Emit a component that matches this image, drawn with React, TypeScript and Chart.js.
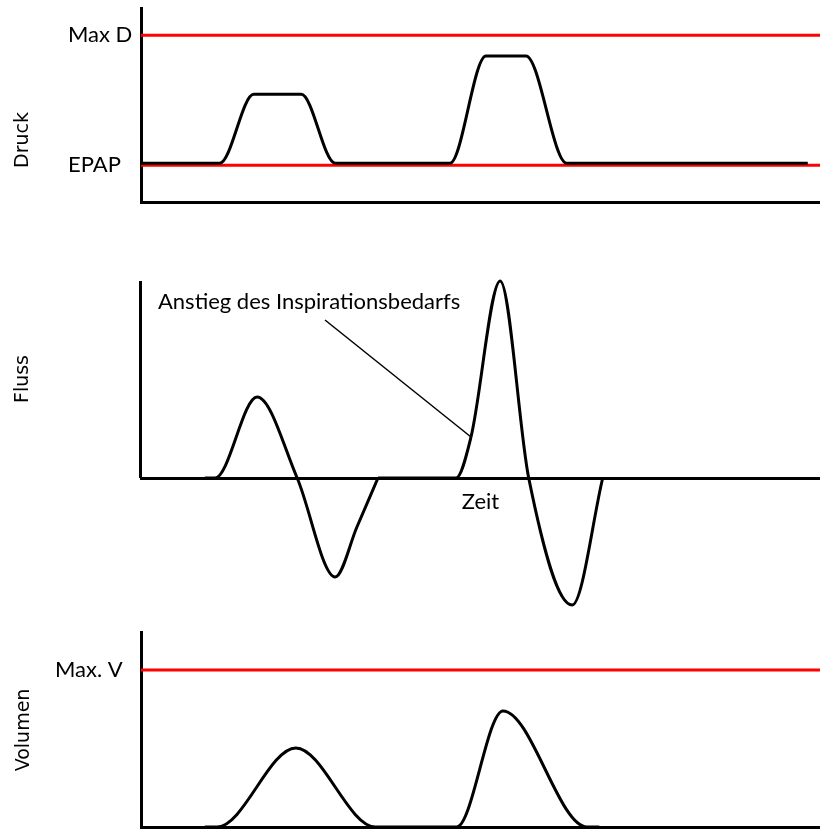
import React, { useEffect, useRef } from 'react';
import { Chart, registerables } from 'chart.js';

Chart.register(...registerables);

// ---- shared time axis ----
const TIME_MIN = 0;
const TIME_MAX = 100;

// ---- Druck (pressure) ----
const DRUCK_T = [0, 11.6, 16.6, 23.6, 28.6, 45.5, 50.8, 56.7, 62.7, 98.2];
const DRUCK_V = [4.0, 4.0, 11.1, 11.1, 4.0, 4.0, 15.05, 15.05, 4.0, 4.0];
const DRUCK_MAX = 20;
const DRUCK_LIMITS = [3.8, 17.2];
const DRUCK_LIMIT_LABELS = ['EPAP', 'Max D'];

// ---- Fluss (flow) ----
const FLUSS_T = [9.4, 10.9, 17.1, 23.0, 28.6, 31.8, 34.9, 34.9, 34.9, 46.4, 48.6, 52.9, 57.1, 63.5, 68.0];
const FLUSS_V = [0, 0, 8.1, 0, -9.9, -4.9, 0, null, 0, 0, 4.1, 19.7, 0, -12.7, 0];
const FLUSS_MIN = -13.5;
const FLUSS_MAX = 19.7;
const NOTE_TEXT = 'Anstieg des Inspirationsbedarfs';
const NOTE_TEXT_AT = [2.5, 17.6];
const NOTE_LINE_FROM = [27.1, 15.8];
const NOTE_LINE_TO = [48.6, 4.1];

// ---- Volumen (volume) ----
const VOL_T = [9.4, 11.2, 22.8, 34.5, 46.5, 53.3, 65.7, 67.5];
const VOL_V = [0, 0, 8.1, 0, 0, 11.9, 0, 0];
const VOL_MAX = 20;
const VOL_LIMITS = [16.1];
const VOL_LIMIT_LABELS = ['Max. V'];

const LABEL_FONT = 'Lato, "Open Sans", sans-serif';
const TITLE_FONT = '"DejaVu Sans", Verdana, sans-serif';
const RED = '#ff0000';

const toPoints = (ts: number[], vs: (number | null)[]) => ts.map((t, i) => ({ x: t, y: vs[i] }));

const curve = (ts: number[], vs: (number | null)[]) => ({
  data: toPoints(ts, vs),
  borderColor: '#000',
  borderWidth: 3,
  pointRadius: 0,
  cubicInterpolationMode: 'monotone',
  fill: false,
  clip: false,
  spanGaps: false,
});

const limitLine = (v: number) => ({
  data: [{ x: TIME_MIN, y: v }, { x: TIME_MAX, y: v }],
  borderColor: RED,
  borderWidth: 3,
  pointRadius: 0,
  fill: false,
  clip: false,
});

const sideTitlePlugin = {
  id: 'sideTitle',
  afterDraw(chart: any, _args: any, opts: any) {
    const { ctx } = chart;
    const y = chart.scales.y.getPixelForValue(opts.value);
    ctx.save();
    ctx.translate(opts.x, y);
    ctx.rotate(-Math.PI / 2);
    ctx.font = `${opts.size}px ${TITLE_FONT}`;
    ctx.fillStyle = '#000';
    ctx.textAlign = 'center';
    ctx.textBaseline = 'middle';
    ctx.fillText(opts.text, 0, 0);
    ctx.restore();
  },
};

const flowExtrasPlugin = {
  id: 'flowExtras',
  afterDatasetsDraw(chart: any) {
    const { ctx, chartArea, scales } = chart;
    const x = scales.x;
    const y = scales.y;
    ctx.save();
    // partial vertical axis (top of chart down to zero line)
    ctx.strokeStyle = '#000';
    ctx.lineWidth = 3;
    ctx.beginPath();
    ctx.moveTo(chartArea.left - 0.5, chartArea.top);
    ctx.lineTo(chartArea.left - 0.5, y.getPixelForValue(0));
    ctx.stroke();
    // leader line
    ctx.lineWidth = 1.5;
    ctx.beginPath();
    ctx.moveTo(x.getPixelForValue(NOTE_LINE_FROM[0]), y.getPixelForValue(NOTE_LINE_FROM[1]));
    ctx.lineTo(x.getPixelForValue(NOTE_LINE_TO[0]), y.getPixelForValue(NOTE_LINE_TO[1]));
    ctx.stroke();
    // note text
    ctx.font = `22px ${LABEL_FONT}`;
    ctx.fillStyle = '#000';
    ctx.textAlign = 'left';
    ctx.textBaseline = 'middle';
    ctx.fillText(NOTE_TEXT, x.getPixelForValue(NOTE_TEXT_AT[0]), y.getPixelForValue(NOTE_TEXT_AT[1]));
    ctx.restore();
  },
};

const xScale = (height: number, extra: any = {}) => ({
  type: 'linear',
  min: TIME_MIN,
  max: TIME_MAX,
  grid: { display: false, drawTicks: false },
  border: { display: true, color: '#000', width: 3 },
  ticks: { display: false },
  afterFit: (s: any) => {
    s.height = height;
    s.paddingLeft = 0;
    s.paddingRight = 0;
  },
  ...extra,
});

const yScale = (min: number, max: number, width: number, limits: number[], labels: string[], border = true) => ({
  type: 'linear',
  min,
  max,
  grid: { display: false, drawTicks: false },
  border: { display: border, color: '#000', width: 3 },
  afterBuildTicks: (s: any) => {
    s.ticks = limits.map((v) => ({ value: v }));
  },
  ticks: {
    display: limits.length > 0,
    autoSkip: false,
    crossAlign: 'far',
    padding: 0,
    color: '#000',
    font: { family: LABEL_FONT, size: 22 },
    callback: (v: number) => {
      const i = limits.indexOf(v);
      return i >= 0 ? labels[i] : '';
    },
  },
  afterFit: (s: any) => {
    s.width = width;
    s.paddingTop = 0;
    s.paddingBottom = 0;
  },
});

const baseOptions = (padding: any) => ({
  responsive: false,
  animation: false,
  devicePixelRatio: 1,
  events: [],
  layout: { padding },
});

function druckConfig(): any {
  return {
    type: 'line',
    data: {
      datasets: [curve(DRUCK_T, DRUCK_V), ...DRUCK_LIMITS.map(limitLine)],
    },
    options: {
      ...baseOptions({ left: 68, top: 8, right: 0, bottom: 0 }),
      scales: {
        x: xScale(13),
        y: yScale(0, DRUCK_MAX, 73, DRUCK_LIMITS, DRUCK_LIMIT_LABELS),
      },
      plugins: {
        legend: { display: false },
        tooltip: { enabled: false },
        sideTitle: { text: 'Druck', x: 23, value: 6.4, size: 19 },
      },
    },
    plugins: [sideTitlePlugin],
  };
}

function flussConfig(): any {
  return {
    type: 'line',
    data: {
      datasets: [curve(FLUSS_T, FLUSS_V)],
    },
    options: {
      ...baseOptions({ left: 0, top: 21, right: 0, bottom: 40 }),
      scales: {
        x: xScale(40, {
          position: { y: 0 },
          title: {
            display: true,
            text: 'Zeit',
            color: '#000',
            font: { family: LABEL_FONT, size: 22 },
            padding: { top: 0, bottom: 3 },
          },
        }),
        y: yScale(FLUSS_MIN, FLUSS_MAX, 141, [], [], false),
      },
      plugins: {
        legend: { display: false },
        tooltip: { enabled: false },
        sideTitle: { text: 'Fluss', x: 23, value: 9.9, size: 19 },
      },
    },
    plugins: [sideTitlePlugin, flowExtrasPlugin],
  };
}

function volConfig(): any {
  return {
    type: 'line',
    data: {
      datasets: [curve(VOL_T, VOL_V), ...VOL_LIMITS.map(limitLine)],
    },
    options: {
      ...baseOptions({ left: 55, top: 12, right: 0, bottom: 0 }),
      scales: {
        x: xScale(2),
        y: yScale(0, VOL_MAX, 86, VOL_LIMITS, VOL_LIMIT_LABELS),
      },
      plugins: {
        legend: { display: false },
        tooltip: { enabled: false },
        sideTitle: { text: 'Volumen', x: 24, value: 9.95, size: 19 },
      },
    },
    plugins: [sideTitlePlugin],
  };
}

export default function App() {
  const r1 = useRef<HTMLCanvasElement>(null);
  const r2 = useRef<HTMLCanvasElement>(null);
  const r3 = useRef<HTMLCanvasElement>(null);

  useEffect(() => {
    const charts = [
      new Chart(r1.current as HTMLCanvasElement, druckConfig()),
      new Chart(r2.current as HTMLCanvasElement, flussConfig()),
      new Chart(r3.current as HTMLCanvasElement, volConfig()),
    ];
    return () => charts.forEach((c) => c.destroy());
  }, []);

  return (
    <div style={{ position: 'absolute', left: 0, top: 0, width: 820, height: 829, background: '#fff', overflow: 'hidden' }}>
      <canvas ref={r1} width={820} height={215} style={{ position: 'absolute', left: 0, top: 0 }} />
      <canvas ref={r2} width={820} height={393} style={{ position: 'absolute', left: 0, top: 260 }} />
      <canvas ref={r3} width={820} height={209} style={{ position: 'absolute', left: 0, top: 620 }} />
    </div>
  );
}
